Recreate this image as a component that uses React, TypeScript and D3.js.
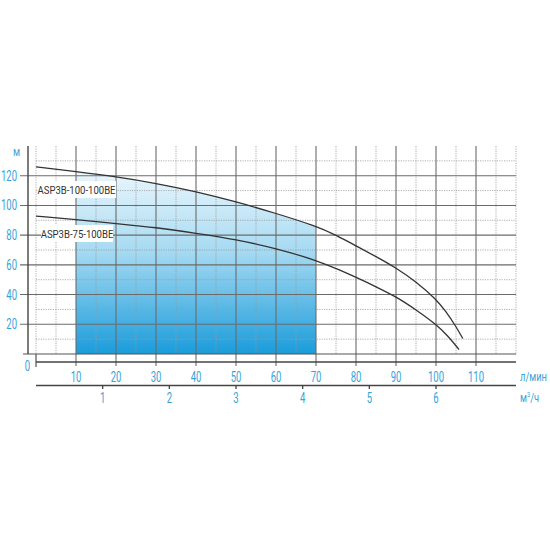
import React from "react";
import * as d3 from "d3";

const flowTicks = [10, 20, 30, 40, 50, 60, 70, 80, 90, 100, 110];
const m3hTicks = [1, 2, 3, 4, 5, 6];
const headTicks = [20, 40, 60, 80, 100, 120];

const upperQ = [0, 10, 20, 30, 40, 50, 60, 70, 75, 80, 85, 90, 95, 100, 102.5, 105, 106.7];
const upperH = [126, 122.8, 119.3, 114.9, 109.3, 102.5, 94.7, 86.1, 80, 72.8, 65.6, 58, 48.7, 37, 28.6, 18.5, 10.4];
const lowerQ = [0, 10, 20, 30, 40, 50, 60, 70, 76, 80, 85, 90, 95, 100, 103, 105.75];
const lowerH = [92.8, 90.5, 87.8, 85.2, 81.2, 77.1, 71.1, 63.2, 56.4, 51.6, 45.3, 38.6, 29.8, 20, 12.2, 3];

const upperName = "ASP3B-100-100BE";
const lowerName = "ASP3B-75-100BE";
const workRange = [10, 70];

const FONT = "Roboto, 'DejaVu Sans', sans-serif";
const BLUE = "#35a3d9";

function T(props: { x: number; y: number; sx?: number; size: number; fill: string; anchor?: string; children: React.ReactNode }) {
  const sx = props.sx ?? 0.7;
  return (
    <text
      transform={`translate(${props.x},${props.y}) scale(${sx},1)`}
      textAnchor={props.anchor || "start"}
      fontFamily={FONT}
      fontSize={props.size}
      fill={props.fill}
    >
      {props.children}
    </text>
  );
}

export default function App() {
  const x = d3.scaleLinear().domain([0, 120]).range([36, 516]);
  const y = d3.scaleLinear().domain([0, 140]).range([354, 146]);
  const x0 = x(0), x1 = x(120), y0 = y(0), y1 = y(140);

  const upper = upperQ.map((q, i) => [q, upperH[i]] as [number, number]);
  const lower = lowerQ.map((q, i) => [q, lowerH[i]] as [number, number]);
  const curve = d3.curveBasis;
  const line = d3.line<[number, number]>().x((d) => x(d[0])).y((d) => y(d[1])).curve(curve);
  const area = d3.area<[number, number]>().x((d) => x(d[0])).y0(y(0)).y1((d) => y(d[1])).curve(curve);

  const minor5 = d3.range(0, 121, 5).filter((v) => v % 10 !== 0 || v === 0 || v === 120);
  const minorH = d3.range(10, 141, 20);

  const m3 = d3.scaleLinear().domain([0, 7.2]).range([x0, x1]);

  return (
    <svg width={550} height={550} style={{ display: "block", position: "absolute", left: 0, top: 0 }}>
      <defs>
        <linearGradient id="blueFill" x1="0" y1={y(126)} x2="0" y2={y(0)} gradientUnits="userSpaceOnUse">
          <stop offset="0" stopColor="#eef8fd" />
          <stop offset="0.45" stopColor="#a6daf2" />
          <stop offset="1" stopColor="#1a9cdb" />
        </linearGradient>
        <clipPath id="workClip">
          <rect x={x(workRange[0])} y={0} width={x(workRange[1]) - x(workRange[0])} height={y0} />
        </clipPath>
      </defs>

      <path d={area(upper) || ""} fill="url(#blueFill)" clipPath="url(#workClip)" />

      {/* minor dotted grid */}
      {minor5.map((v) => (
        <line key={"mv" + v} x1={x(v)} x2={x(v)} y1={y1} y2={y0} stroke="#9a9a9a" strokeWidth={0.8} strokeDasharray="1.2,1.2" />
      ))}
      {minorH.map((v) => (
        <line key={"mh" + v} x1={x0} x2={x1} y1={y(v)} y2={y(v)} stroke="#9a9a9a" strokeWidth={0.8} strokeDasharray="1.2,1.2" />
      ))}

      {/* major grid */}
      {flowTicks.map((v) => (
        <line key={"gv" + v} x1={x(v)} x2={x(v)} y1={y1} y2={366} stroke="#6b6b6b" strokeWidth={1.1} />
      ))}
      {headTicks.map((v) => (
        <line key={"gh" + v} x1={20} x2={x1} y1={y(v)} y2={y(v)} stroke="#6b6b6b" strokeWidth={1.1} />
      ))}
      <line x1={23} x2={x1} y1={y0} y2={y0} stroke="#555" strokeWidth={1.2} />
      <line x1={x0} x2={x0} y1={y0} y2={367} stroke="#555" strokeWidth={1.2} />

      {/* axes */}
      <line x1={28} x2={28} y1={y1} y2={y0} stroke="#444" strokeWidth={1.4} />
      <line x1={x0} x2={x1} y1={362} y2={362} stroke="#444" strokeWidth={1.5} />
      <line x1={x0} x2={x1} y1={385.5} y2={385.5} stroke="#444" strokeWidth={1.3} />
      {m3hTicks.map((v) => (
        <line key={"mt" + v} x1={m3(v)} x2={m3(v)} y1={385.5} y2={389} stroke="#444" strokeWidth={1.3} />
      ))}

      {/* curves */}
      <path d={line(upper) || ""} fill="none" stroke="#333" strokeWidth={1.3} />
      <path d={line(lower) || ""} fill="none" stroke="#333" strokeWidth={1.3} />

      {/* curve labels */}
      <rect x={37} y={181} width={79} height={17} fill="#fff" />
      <T x={76.5} y={194} size={11.8} sx={0.81} anchor="middle" fill="#333">{upperName}</T>
      <rect x={41} y={225} width={72} height={17} fill="#fff" />
      <T x={77} y={238} size={11.8} sx={0.81} anchor="middle" fill="#333">{lowerName}</T>

      {/* tick labels */}
      {headTicks.map((v) => (
        <T key={"yl" + v} x={17} y={y(v) + 5} size={14} sx={0.68} anchor="end" fill={BLUE}>{v}</T>
      ))}
      <T x={27.5} y={371} size={14} sx={0.68} anchor="middle" fill={BLUE}>0</T>
      <T x={16.5} y={155.5} size={12} sx={0.8} anchor="middle" fill={BLUE}>м</T>
      {flowTicks.map((v) => (
        <T key={"xl" + v} x={x(v)} y={382} size={14} sx={0.68} anchor="middle" fill={BLUE}>{v}</T>
      ))}
      {m3hTicks.map((v) => (
        <T key={"ml" + v} x={m3(v)} y={402.5} size={14} sx={0.68} anchor="middle" fill={BLUE}>{v}</T>
      ))}
      <T x={520} y={381} size={13} sx={0.72} fill={BLUE}>л/мин</T>
      <T x={520} y={402} size={13} sx={0.72} fill={BLUE}>
        м<tspan fontSize={8} dy={-5}>3</tspan><tspan dy={5}>/ч</tspan>
      </T>
    </svg>
  );
}
